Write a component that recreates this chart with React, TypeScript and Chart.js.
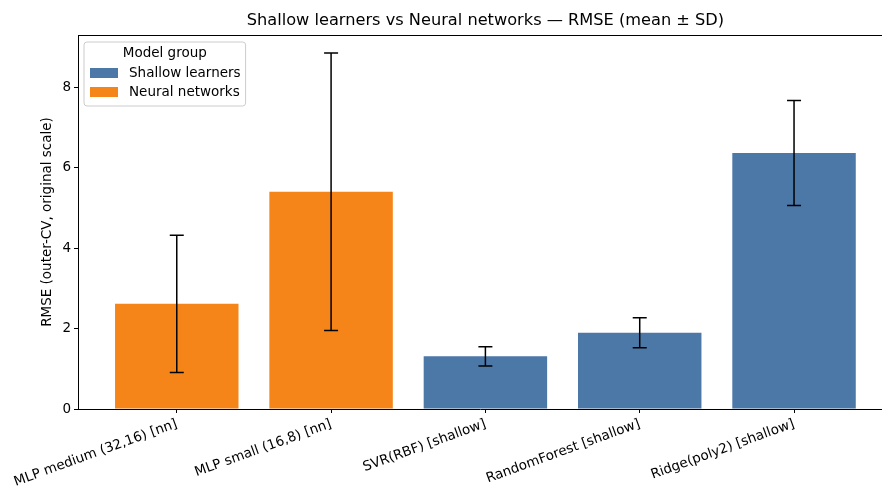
import React, { useEffect, useRef } from "react";
import { Chart, registerables } from "chart.js";

Chart.register(...registerables);

// Model names, the group each belongs to, and outer-CV RMSE (mean and standard deviation)
const models = [
  "MLP medium (32,16) [nn]",
  "MLP small (16,8) [nn]",
  "SVR(RBF) [shallow]",
  "RandomForest [shallow]",
  "Ridge(poly2) [shallow]",
];
const modelGroups = ["nn", "nn", "shallow", "shallow", "shallow"];
const rmseMean = [2.615, 5.4, 1.31, 1.895, 6.365];
const rmseSd = [1.705, 3.45, 0.24, 0.375, 1.305];
const yTickValues = [0, 2, 4, 6, 8];

const groupOrder = ["shallow", "nn"];
const groupLabels: Record<string, string> = {
  shallow: "Shallow learners",
  nn: "Neural networks",
};
const groupColors: Record<string, string> = {
  shallow: "#4C78A8",
  nn: "#F58518",
};

const titleText = "Shallow learners vs Neural networks \u2014 RMSE (mean \u00b1 SD)";
const yAxisTitle = "RMSE (outer-CV, original scale)";
const legendTitle = "Model group";

const FONT = "'DejaVu Sans', sans-serif";
const X_MIN = -0.64;
const X_FULL_MAX = 4.64;
const X_VISIBLE_MAX = 4.57;

const errorBarPlugin = {
  id: "errorBars",
  afterDatasetsDraw(chart: any) {
    const { ctx, scales } = chart;
    const x = scales.x;
    const y = scales.y;
    ctx.save();
    ctx.strokeStyle = "#000";
    ctx.lineWidth = 1.5;
    const cap = 7;
    rmseMean.forEach((m, i) => {
      const px = x.getPixelForValue(i);
      const top = y.getPixelForValue(m + rmseSd[i]);
      const bot = y.getPixelForValue(m - rmseSd[i]);
      ctx.beginPath();
      ctx.moveTo(px, top);
      ctx.lineTo(px, bot);
      ctx.moveTo(px - cap, top);
      ctx.lineTo(px + cap, top);
      ctx.moveTo(px - cap, bot);
      ctx.lineTo(px + cap, bot);
      ctx.stroke();
    });
    ctx.restore();
  },
};

const framePlugin = {
  id: "frameAndTitle",
  afterDraw(chart: any) {
    const { ctx, chartArea, scales } = chart;
    ctx.save();
    // top spine
    ctx.strokeStyle = "#000";
    ctx.lineWidth = 1;
    ctx.beginPath();
    ctx.moveTo(chartArea.left, Math.round(chartArea.top) + 0.5);
    ctx.lineTo(chartArea.right, Math.round(chartArea.top) + 0.5);
    ctx.stroke();

    // title centred over the full axis span
    const cx =
      (scales.x.getPixelForValue(X_MIN) + scales.x.getPixelForValue(X_FULL_MAX)) / 2;
    ctx.fillStyle = "#000";
    ctx.font = `16.2px ${FONT}`;
    ctx.textAlign = "center";
    ctx.textBaseline = "middle";
    ctx.fillText(titleText, cx, 21);

    // legend box
    const fs = 13.5;
    ctx.font = `${fs}px ${FONT}`;
    const bx = chartArea.left + 6;
    const by = chartArea.top + 7;
    const patchW = 28;
    const patchH = 10;
    const textX = bx + 45;
    const textW = Math.max(
      ...groupOrder.map((g) => ctx.measureText(groupLabels[g]).width)
    );
    const bw = textX - bx + textW + 5;
    const bh = 64;
    const r = 3;
    ctx.beginPath();
    ctx.moveTo(bx + r, by);
    ctx.lineTo(bx + bw - r, by);
    ctx.arcTo(bx + bw, by, bx + bw, by + r, r);
    ctx.lineTo(bx + bw, by + bh - r);
    ctx.arcTo(bx + bw, by + bh, bx + bw - r, by + bh, r);
    ctx.lineTo(bx + r, by + bh);
    ctx.arcTo(bx, by + bh, bx, by + bh - r, r);
    ctx.lineTo(bx, by + r);
    ctx.arcTo(bx, by, bx + r, by, r);
    ctx.closePath();
    ctx.fillStyle = "rgba(255,255,255,0.8)";
    ctx.fill();
    ctx.strokeStyle = "#cccccc";
    ctx.lineWidth = 1;
    ctx.stroke();

    ctx.fillStyle = "#000";
    ctx.textAlign = "center";
    ctx.fillText(legendTitle, bx + bw / 2, by + 11);
    ctx.textAlign = "left";
    groupOrder.forEach((g, k) => {
      const cy = by + 31 + k * 19;
      ctx.fillStyle = groupColors[g];
      ctx.fillRect(bx + 6, cy - patchH / 2, patchW, patchH);
      ctx.fillStyle = "#000";
      ctx.fillText(groupLabels[g], textX, cy);
    });
    ctx.restore();
  },
};

export default function App() {
  const canvasRef = useRef<HTMLCanvasElement | null>(null);

  useEffect(() => {
    if (!canvasRef.current) return;
    Chart.defaults.font.family = FONT;
    Chart.defaults.color = "#000";

    const datasets = groupOrder.map((g) => ({
      label: groupLabels[g],
      backgroundColor: groupColors[g],
      borderWidth: 0,
      barPercentage: 0.8,
      categoryPercentage: 1.0,
      grouped: false,
      data: models
        .map((_, i) => ({ x: i, y: rmseMean[i], g: modelGroups[i] }))
        .filter((d) => d.g === g)
        .map((d) => ({ x: d.x, y: d.y })),
    }));

    const chart = new Chart(canvasRef.current, {
      type: "bar",
      data: { datasets },
      options: {
        animation: false,
        responsive: false,
        devicePixelRatio: 1,
        layout: { padding: { top: 35, right: 0, left: 0, bottom: 0 } },
        plugins: {
          legend: { display: false },
          title: { display: false },
          tooltip: { enabled: false },
        },
        scales: {
          x: {
            type: "linear",
            offset: false,
            min: X_MIN,
            max: X_VISIBLE_MAX,
            afterBuildTicks: (axis: any) => {
              axis.ticks = models.map((_, i) => ({ value: i }));
            },
            afterFit: (axis: any) => {
              axis.height = 78;
            },
            ticks: {
              autoSkip: false,
              minRotation: 20,
              maxRotation: 20,
              padding: 3,
              font: { size: 13.5, family: FONT },
              color: "#000",
              callback: (value: any) => models[value as number] ?? "",
            },
            grid: {
              offset: false,
              drawOnChartArea: false,
              drawTicks: true,
              tickLength: 4,
              tickColor: "#000",
              tickWidth: 1,
            },
            border: { display: true, color: "#000", width: 1 },
          },
          y: {
            type: "linear",
            min: 0,
            max: 9.3,
            afterBuildTicks: (axis: any) => {
              axis.ticks = yTickValues.map((v) => ({ value: v }));
            },
            afterFit: (axis: any) => {
              axis.width = 78;
            },
            ticks: {
              padding: 3,
              font: { size: 13.5, family: FONT },
              color: "#000",
              callback: (value: any) => String(value),
            },
            grid: {
              drawOnChartArea: false,
              drawTicks: true,
              tickLength: 4,
              tickColor: "#000",
              tickWidth: 1,
            },
            border: { display: true, color: "#000", width: 1 },
            title: {
              display: true,
              text: yAxisTitle,
              font: { size: 13.5, family: FONT },
              color: "#000",
              padding: { top: 39, bottom: 0 },
            },
          },
        },
      },
      plugins: [errorBarPlugin, framePlugin],
    } as any);

    return () => chart.destroy();
  }, []);

  return (
    <div
      style={{
        position: "fixed",
        left: 0,
        top: 0,
        width: 882,
        height: 487,
        background: "#fff",
      }}
    >
      <canvas ref={canvasRef} width={882} height={487} />
    </div>
  );
}
